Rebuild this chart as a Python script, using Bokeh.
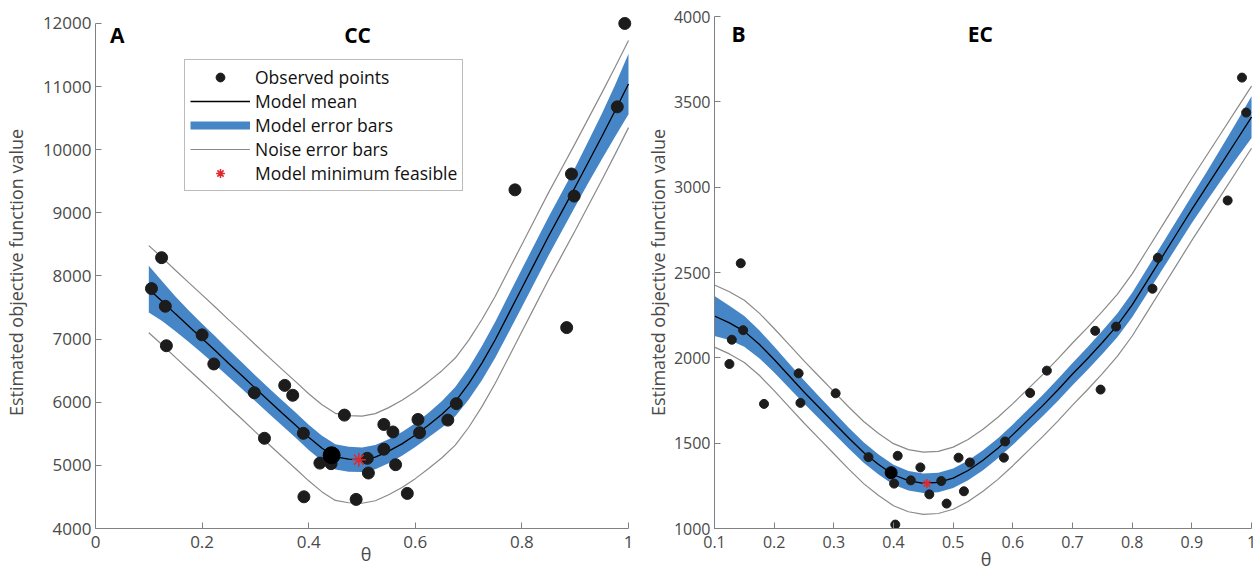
from bokeh.plotting import figure
from bokeh.layouts import row
from bokeh.models import FixedTicker, Legend, LegendItem, Label
from bokeh.embed import file_html
from bokeh.resources import INLINE

# ---------------- data ----------------
theta_grid = [0.100, 0.125, 0.150, 0.175, 0.200, 0.225, 0.250, 0.275, 0.300, 0.325,
              0.350, 0.375, 0.400, 0.425, 0.450, 0.475, 0.500, 0.525, 0.550, 0.575,
              0.600, 0.625, 0.650, 0.675, 0.700, 0.725, 0.750, 0.775, 0.800, 0.825,
              0.850, 0.875, 0.900, 0.925, 0.950, 0.975, 1.000]

# Panel A (CC)
cc_mean = [7790, 7600, 7400, 7205, 7010, 6815, 6615, 6420, 6220, 6025,
           5830, 5640, 5445, 5270, 5135, 5098, 5090, 5130, 5225, 5340,
           5480, 5640, 5810, 6010, 6290, 6620, 6990, 7400, 7810, 8220,
           8630, 9020, 9410, 9810, 10210, 10620, 11040]
cc_model_err = [370, 315, 275, 250, 235, 225, 215, 210, 205, 202,
                200, 200, 200, 200, 200, 198, 195, 192, 190, 188,
                188, 195, 210, 230, 250, 270, 285, 295, 300, 303,
                305, 308, 310, 330, 360, 410, 480]
cc_noise_err = 690
cc_obs_theta = [0.105, 0.124, 0.131, 0.133, 0.200, 0.222, 0.298, 0.317, 0.355, 0.370,
                0.390, 0.391, 0.421, 0.442, 0.467, 0.489, 0.510, 0.512, 0.541, 0.541,
                0.558, 0.563, 0.585, 0.605, 0.608, 0.661, 0.677, 0.787, 0.884, 0.893,
                0.898, 0.979, 0.993]
cc_obs_value = [7800, 8290, 7520, 6895, 7067, 6606, 6150, 5429, 6267, 6110,
                5507, 4502, 5036, 5027, 5796, 4461, 5112, 4879, 5648, 5256,
                5529, 5011, 4556, 5727, 5518, 5717, 5978, 9364, 7182, 9615,
                9265, 10679, 12000]
cc_best_theta = [0.443]
cc_best_value = [5160]
cc_min_theta = [0.494]
cc_min_value = [5090]
cc_xticks = [0, 0.2, 0.4, 0.6, 0.8, 1]
cc_xtick_labels = ["0", "0.2", "0.4", "0.6", "0.8", "1"]
cc_yticks = [4000, 5000, 6000, 7000, 8000, 9000, 10000, 11000, 12000]
cc_ytick_labels = ["4000", "5000", "6000", "7000", "8000", "9000", "10000", "11000", "12000"]

# Panel B (EC)
ec_mean = [2245, 2205, 2155, 2080, 1990, 1895, 1800, 1710, 1620, 1530,
           1445, 1375, 1315, 1280, 1265, 1270, 1295, 1340, 1400, 1470,
           1550, 1635, 1720, 1810, 1905, 1995, 2090, 2190, 2310, 2450,
           2590, 2730, 2870, 3005, 3140, 3275, 3410]
ec_model_err = [117, 100, 90, 82, 76, 72, 68, 65, 63, 61,
                60, 59, 58, 57, 57, 57, 57, 58, 58, 59,
                60, 61, 62, 64, 65, 67, 68, 70, 72, 74,
                75, 78, 80, 86, 95, 107, 122]
ec_noise_err = 182
ec_obs_theta = [0.125, 0.129, 0.144, 0.148, 0.183, 0.241, 0.244, 0.303, 0.358, 0.401,
                0.403, 0.407, 0.429, 0.445, 0.460, 0.480, 0.489, 0.509, 0.518, 0.528,
                0.585, 0.587, 0.629, 0.657, 0.738, 0.747, 0.773, 0.834, 0.843, 0.960,
                0.984, 0.991]
ec_obs_value = [1964, 2106, 2554, 2162, 1730, 1909, 1736, 1792, 1418, 1263,
                1023, 1426, 1282, 1358, 1200, 1278, 1146, 1415, 1218, 1387,
                1415, 1510, 1794, 1925, 2158, 1814, 2183, 2405, 2586, 2922,
                3642, 3437]
ec_best_theta = [0.396]
ec_best_value = [1327]
ec_min_theta = [0.456]
ec_min_value = [1263]
ec_xticks = [0.1, 0.2, 0.3, 0.4, 0.5, 0.6, 0.7, 0.8, 0.9, 1]
ec_xtick_labels = ["0.1", "0.2", "0.3", "0.4", "0.5", "0.6", "0.7", "0.8", "0.9", "1"]
ec_yticks = [1000, 1500, 2000, 2500, 3000, 3500, 4000]
ec_ytick_labels = ["1000", "1500", "2000", "2500", "3000", "3500", "4000"]

# ---------------- style ----------------
FONT = "Open Sans"
BLUE = "#4686c6"
DOT = "#1c1c1c"
GREY_LINE = "#8a8a8a"
AXIS = "#808080"
TXT = "#4a4a4a"
RED = "#e0282e"


def style_axes(p, xticks, xlabels, yticks, ylabels, xb, yb, tick_fs):
    p.xaxis.ticker = FixedTicker(ticks=xticks)
    p.yaxis.ticker = FixedTicker(ticks=yticks)
    p.xaxis.major_label_overrides = {t: l for t, l in zip(xticks, xlabels)}
    p.yaxis.major_label_overrides = {t: l for t, l in zip(yticks, ylabels)}
    p.xaxis.bounds = xb
    p.yaxis.bounds = yb
    for ax in (p.xaxis, p.yaxis):
        ax.major_tick_in = 6
        ax.major_tick_out = 0
        ax.minor_tick_line_color = None
        ax.axis_line_color = AXIS
        ax.major_tick_line_color = AXIS
        ax.major_label_text_font = FONT
        ax.major_label_text_font_size = tick_fs
        ax.major_label_text_color = TXT
        ax.axis_label_text_font = FONT
        ax.axis_label_text_font_style = "normal"
        ax.axis_label_text_color = TXT
    p.xaxis.major_label_standoff = 7
    p.yaxis.major_label_standoff = 4
    p.xaxis.axis_label = "θ"
    p.xaxis.axis_label_text_font_size = "18px"
    p.yaxis.axis_label = "Estimated objective function value"
    p.yaxis.axis_label_text_font_size = "18px"
    p.xgrid.visible = False
    p.ygrid.visible = False
    p.outline_line_color = None


def draw_panel(p, mean, merr, nerr, ot, ov, bt, bv, mt, mv, dot_size, big_size, star_size):
    lo = [m - e for m, e in zip(mean, merr)]
    hi = [m + e for m, e in zip(mean, merr)]
    nlo = [m - nerr for m in mean]
    nhi = [m + nerr for m in mean]
    p.varea(x=theta_grid, y1=lo, y2=hi, fill_color=BLUE, fill_alpha=1.0)
    n1 = p.line(theta_grid, nhi, line_color=GREY_LINE, line_width=1.2)
    p.line(theta_grid, nlo, line_color=GREY_LINE, line_width=1.2)
    ml = p.line(theta_grid, mean, line_color="black", line_width=1.3)
    pts = p.scatter(ot, ov, size=dot_size, fill_color=DOT, line_color=DOT)
    p.scatter(bt, bv, size=big_size, fill_color="black", line_color="black")
    st = p.scatter(mt, mv, marker="asterisk", size=star_size, line_color=RED, line_width=1.5)
    return pts, ml, n1, st


# Panel A
pA = figure(width=640, height=573, x_range=(0, 1.015), y_range=(4000, 12110),
            output_backend="svg", toolbar_location=None,
            min_border_left=93, min_border_right=4, min_border_top=16, min_border_bottom=41)
style_axes(pA, cc_xticks, cc_xtick_labels, cc_yticks, cc_ytick_labels, (0, 1), (4000, 12000), "17px")
pA.yaxis.axis_label_standoff = 12
pA.xaxis.axis_label_standoff = -9
ptsA, mlA, nA, stA = draw_panel(pA, cc_mean, cc_model_err, cc_noise_err, cc_obs_theta, cc_obs_value,
                                cc_best_theta, cc_best_value, cc_min_theta, cc_min_value, 12, 17, 14)
errA = pA.line(x=[float("nan")], y=[float("nan")], line_color=BLUE, line_width=8)
legend = Legend(items=[LegendItem(label="Observed points", renderers=[ptsA]),
                       LegendItem(label="Model mean", renderers=[mlA]),
                       LegendItem(label="Model error bars", renderers=[errA]),
                       LegendItem(label="Noise error bars", renderers=[nA]),
                       LegendItem(label="Model minimum feasible", renderers=[stA])],
                location=(89, 337), glyph_width=60, glyph_height=22, label_height=22,
                label_standoff=5, padding=5, spacing=0, margin=0,
                label_text_font=FONT, label_text_font_size="17.5px", label_text_color="#111111",
                label_text_line_height=1.0,
                border_line_color="#777777", border_line_width=1, background_fill_alpha=1.0)
pA.add_layout(legend)
pA.add_layout(Label(x=0.027, y=11814, text="A", text_font=FONT, text_font_style="bold",
                    text_font_size="21px", text_baseline="middle", text_align="left", text_color="black"))
pA.add_layout(Label(x=0.4916, y=11814, text="CC", text_font=FONT, text_font_style="bold",
                    text_font_size="21px", text_baseline="middle", text_align="center", text_color="black"))

# Panel B
pB = figure(width=620, height=573, x_range=(0.1, 1.01), y_range=(1000, 4000),
            output_backend="svg", toolbar_location=None,
            min_border_left=74, min_border_right=3, min_border_top=14, min_border_bottom=45)
style_axes(pB, ec_xticks, ec_xtick_labels, ec_yticks, ec_ytick_labels, (0.1, 1), (1000, 4000), "16px")
pB.yaxis.axis_label_standoff = 1
pB.xaxis.axis_label_standoff = -4
draw_panel(pB, ec_mean, ec_model_err, ec_noise_err, ec_obs_theta, ec_obs_value,
           ec_best_theta, ec_best_value, ec_min_theta, ec_min_value, 9, 12, 9)
pB.add_layout(Label(x=0.1285, y=3896, text="B", text_font=FONT, text_font_style="bold",
                    text_font_size="21px", text_baseline="middle", text_align="left", text_color="black"))
pB.add_layout(Label(x=0.5456, y=3896, text="EC", text_font=FONT, text_font_style="bold",
                    text_font_size="21px", text_baseline="middle", text_align="center", text_color="black"))

layout = row(pA, pB)
open("out.html", "w").write(file_html(layout, INLINE))
